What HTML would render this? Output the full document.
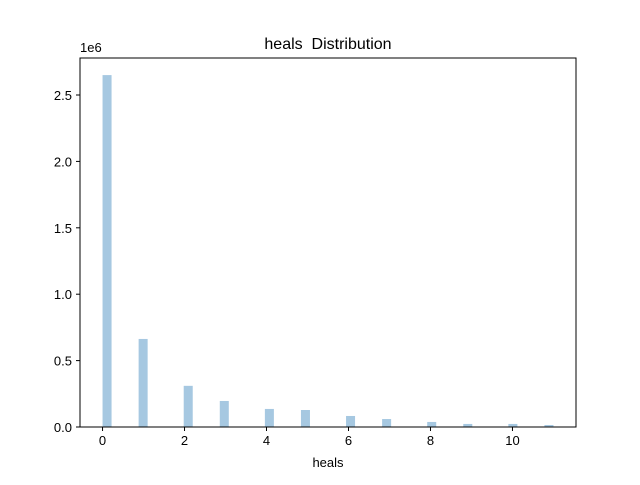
<!DOCTYPE html>
<html><head><meta charset="utf-8"><style>body{margin:0;background:#fff}svg{font-family:"Liberation Sans","DejaVu Sans",sans-serif}</style></head>
<body>
<svg id="chart" width="640" height="480" xmlns="http://www.w3.org/2000/svg">
<text x="328" y="49" font-size="16" text-anchor="middle" style="white-space:pre">heals  Distribution</text>
<text x="80" y="52" font-size="13">1e6</text>
<text x="328" y="467" font-size="13" text-anchor="middle">heals</text>
<g id="bars"></g>
<g id="ticks"></g>
<rect x="80" y="58" width="496" height="369" fill="none" stroke="#000" stroke-width="1"/>
</svg>
<script>
const categories = [0,1,2,3,4,5,6,7,8,9,10,11];
const counts = [2.65e6,0.663e6,0.31e6,0.196e6,0.136e6,0.128e6,0.083e6,0.06e6,0.038e6,0.023e6,0.023e6,0.015e6];
const xTicks = [0,2,4,6,8,10];
const yTicks = [0,0.5e6,1.0e6,1.5e6,2.0e6,2.5e6];
const yTickLabels = ["0.0","0.5","1.0","1.5","2.0","2.5"];
const ns="http://www.w3.org/2000/svg";
const X0=80,X1=576,Y0=427,Y1=58,xmin=-0.55,xmax=11.55,ymax=2.7787e6;
const xs=v=>X0+(v-xmin)/(xmax-xmin)*(X1-X0);
const ys=v=>Y0-v/ymax*(Y0-Y1);
const binW=0.22;
const bars=document.getElementById('bars'),ticks=document.getElementById('ticks');
categories.forEach((c,i)=>{
  let b=Math.min(49,Math.floor(c/binW+1e-9));
  const r=document.createElementNS(ns,'rect');
  r.setAttribute('x',xs(b*binW));r.setAttribute('width',xs(binW)-xs(0));
  r.setAttribute('y',ys(counts[i]));r.setAttribute('height',Y0-ys(counts[i]));
  r.setAttribute('fill','#a6c8e1');
  
  
  bars.appendChild(r);
});
xTicks.forEach(t=>{
  const l=document.createElementNS(ns,'line');
  l.setAttribute('x1',xs(t));l.setAttribute('x2',xs(t));l.setAttribute('y1',Y0);l.setAttribute('y2',Y0+4);l.setAttribute('stroke','#000');
  
  
  ticks.appendChild(l);
  const tx=document.createElementNS(ns,'text');
  tx.setAttribute('x',xs(t));tx.setAttribute('y',Y0+18);tx.setAttribute('font-size','13');tx.setAttribute('text-anchor','middle');tx.textContent=t;
  
  
  ticks.appendChild(tx);
});
yTicks.forEach((t,i)=>{
  const l=document.createElementNS(ns,'line');
  l.setAttribute('x1',X0-4);l.setAttribute('x2',X0);l.setAttribute('y1',ys(t));l.setAttribute('y2',ys(t));l.setAttribute('stroke','#000');
  
  
  ticks.appendChild(l);
  const tx=document.createElementNS(ns,'text');
  tx.setAttribute('x',X0-8);tx.setAttribute('y',ys(t)+5);tx.setAttribute('font-size','13');tx.setAttribute('text-anchor','end');tx.textContent=yTickLabels[i];
  
  
  ticks.appendChild(tx);
});
</script>
</body></html>
